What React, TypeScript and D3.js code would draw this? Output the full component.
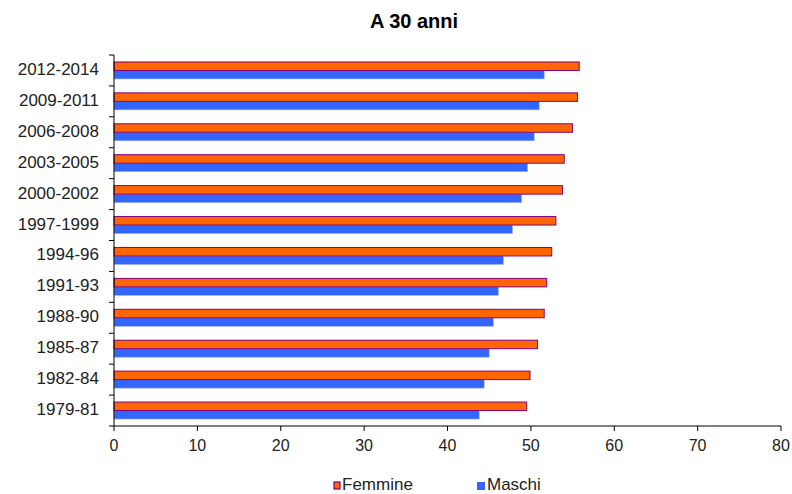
import React from "react";
import * as d3 from "d3";

const categories = ["2012-2014","2009-2011","2006-2008","2003-2005","2000-2002","1997-1999","1994-96","1991-93","1988-90","1985-87","1982-84","1979-81"];
const femmine = [55.8,55.6,55.0,54.0,53.8,53.0,52.5,51.9,51.6,50.8,49.9,49.5];
const maschi = [51.6,51.0,50.4,49.6,48.9,47.8,46.7,46.1,45.5,45.0,44.4,43.8];
const xTicks = [0,10,20,30,40,50,60,70,80];
const seriesNames = ["Femmine","Maschi"];

export default function App() {
  const W = 792, H = 494;
  const left = 114, right = 781, top = 55, bottom = 426;
  const x = d3.scaleLinear().domain([0, 80]).range([left, right]);
  const y = d3.scaleBand<string>().domain(categories).range([top, bottom]);
  const bw = y.bandwidth();
  const barH = bw * 0.275;
  const gTop = (bw - 2 * barH) / 2;
  const font = "'Liberation Sans', Arial, sans-serif";
  return (
    <svg width={W} height={H} style={{ position: "absolute", left: 0, top: 0, background: "#fff" }} fontFamily={font}>
      <text x={414} y={28} textAnchor="middle" fontSize={20} fontWeight="bold" fill="#000">A 30 anni</text>
      {categories.map((c, i) => {
        const y0 = (y(c) as number) + gTop;
        return (
          <g key={c}>
            <rect x={x(0)} y={y0 + barH} width={x(maschi[i]) - x(0)} height={barH} fill="#3366FF" stroke="#9fb4f7" strokeWidth={0.6} />
            <rect x={x(0)} y={y0} width={x(femmine[i]) - x(0)} height={barH} fill="#FF6600" stroke="#800080" strokeWidth={1} />
            <text x={99} y={(y(c) as number) + bw / 2 + 4.5} textAnchor="end" fontSize={17} fill="#222">{c}</text>
          </g>
        );
      })}
      {/* y axis */}
      <line x1={left} x2={left} y1={top} y2={bottom} stroke="#000" />
      {d3.range(categories.length + 1).map(i => {
        const yy = top + i * bw;
        return <line key={i} x1={left - 5} x2={left} y1={yy} y2={yy} stroke="#000" />;
      })}
      {/* x axis */}
      <line x1={left} x2={right} y1={bottom} y2={bottom} stroke="#000" />
      {xTicks.map(t => (
        <g key={t}>
          <line x1={x(t)} x2={x(t)} y1={bottom} y2={bottom + 5} stroke="#000" />
          <text x={x(t)} y={451} textAnchor="middle" fontSize={16} fill="#222">{t}</text>
        </g>
      ))}
      {/* legend */}
      <rect x={334} y={482} width={6} height={7} fill="#FF6600" stroke="#800080" strokeWidth={1.2} />
      <text x={342} y={490} fontSize={17} fill="#222">{seriesNames[0]}</text>
      <rect x={477} y={482} width={8} height={8} fill="#3366FF" />
      <text x={487} y={490} fontSize={17} fill="#222">{seriesNames[1]}</text>
    </svg>
  );
}
